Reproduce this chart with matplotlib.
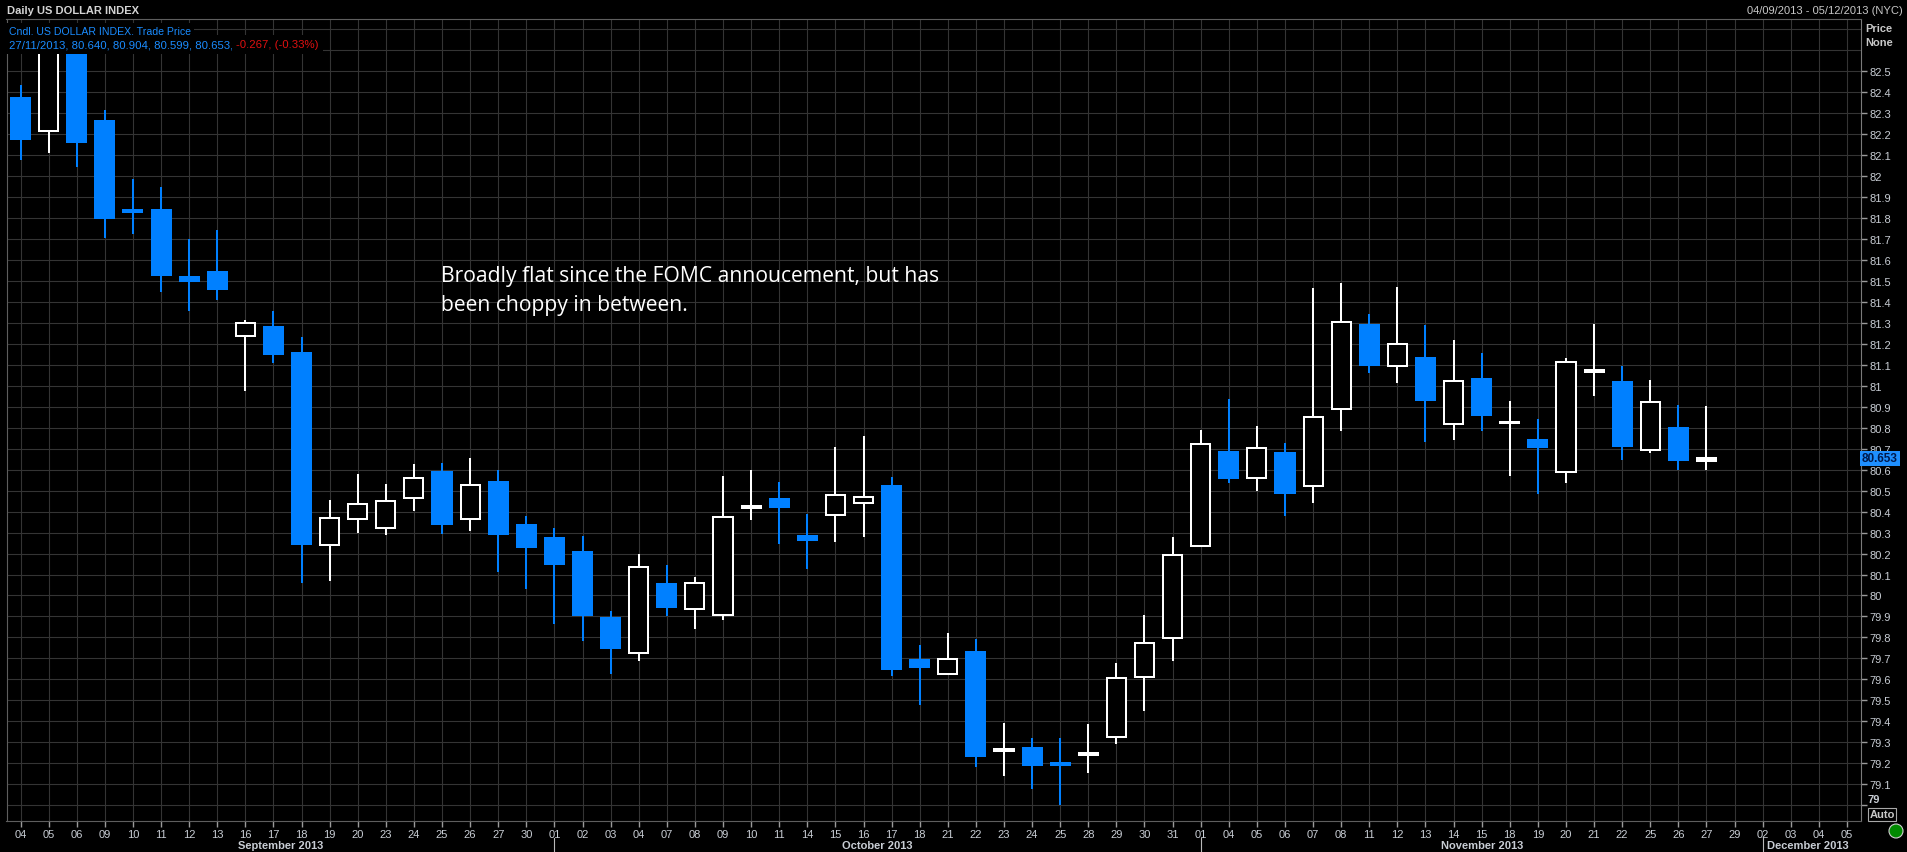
import matplotlib
matplotlib.use("Agg")
import matplotlib.pyplot as plt
import numpy as np
from matplotlib.patches import Ellipse
from matplotlib.lines import Line2D
from matplotlib.transforms import blended_transform_factory

# ---------------- data ----------------
day_labels = ["04", "05", "06", "09", "10", "11", "12", "13", "16", "17", "18", "19", "20",
              "23", "24", "25", "26", "27", "30",
              "01", "02", "03", "04", "07", "08", "09", "10", "11", "14", "15", "16", "17",
              "18", "21", "22", "23", "24", "25", "28", "29", "30", "31",
              "01", "04", "05", "06", "07", "08", "11", "12", "13", "14", "15", "18", "19",
              "20", "21", "22", "25", "26", "27", "29",
              "02", "03", "04", "05"]

month_names = ["September 2013", "October 2013", "November 2013", "December 2013"]
month_starts = [0, 19, 42, 62]

opens = [82.377, 82.212, 82.630, 82.268, 81.840, 81.844, 81.525, 81.546, 81.237, 81.285,
         81.161, 80.242, 80.364, 80.322, 80.466, 80.593, 80.364, 80.547, 80.342, 80.278,
         80.213, 79.898, 79.725, 80.059, 79.937, 79.908, 80.415, 80.466, 80.288, 80.383,
         80.442, 80.527, 79.698, 79.625, 79.735, 79.260, 79.279, 79.207, 79.238, 79.325,
         79.613, 79.798, 80.235, 80.690, 80.561, 80.686, 80.522, 80.890, 81.293, 81.095,
         81.137, 80.817, 81.037, 80.820, 80.747, 80.588, 81.066, 81.022, 80.693, 80.803,
         80.640]
highs = [82.434, 82.660, 82.680, 82.314, 81.985, 81.948, 81.700, 81.741, 81.315, 81.356,
         81.232, 80.456, 80.578, 80.532, 80.627, 80.632, 80.656, 80.598, 80.378, 80.322,
         80.283, 79.927, 80.198, 80.147, 80.088, 80.571, 80.598, 80.542, 80.388, 80.708,
         80.761, 80.566, 79.764, 79.823, 79.793, 79.394, 79.320, 79.320, 79.389, 79.679,
         79.908, 80.278, 80.788, 80.937, 80.810, 80.727, 81.466, 81.490, 81.341, 81.471,
         81.290, 81.217, 81.156, 80.927, 80.842, 81.132, 81.295, 81.095, 81.027, 80.907,
         80.904]
lows = [82.078, 82.107, 82.041, 81.705, 81.722, 81.449, 81.358, 81.407, 80.973, 81.110,
        80.061, 80.071, 80.300, 80.286, 80.405, 80.291, 80.305, 80.110, 80.030, 79.866,
        79.781, 79.628, 79.686, 79.900, 79.840, 79.881, 80.359, 80.244, 80.127, 80.257,
        80.281, 79.615, 79.476, 79.620, 79.181, 79.138, 79.079, 78.999, 79.152, 79.291,
        79.447, 79.686, 80.230, 80.534, 80.500, 80.381, 80.439, 80.783, 81.059, 81.015,
        80.734, 80.739, 80.783, 80.569, 80.486, 80.534, 80.949, 80.644, 80.678, 80.600,
        80.599]
closes = [82.170, 82.630, 82.156, 81.797, 81.822, 81.522, 81.493, 81.454, 81.298, 81.144,
          80.239, 80.371, 80.434, 80.449, 80.561, 80.335, 80.525, 80.286, 80.225, 80.144,
          79.903, 79.747, 80.135, 79.942, 80.061, 80.376, 80.425, 80.415, 80.261, 80.481,
          80.471, 79.645, 79.652, 79.696, 79.228, 79.268, 79.186, 79.188, 79.248, 79.608,
          79.774, 80.193, 80.722, 80.554, 80.703, 80.486, 80.849, 81.305, 81.093, 81.198,
          80.929, 81.024, 80.854, 80.828, 80.705, 81.115, 81.076, 80.710, 80.920, 80.639,
          80.653]

last_price = 80.653
price_ticks = [79.0, 79.1, 79.2, 79.3, 79.4, 79.5, 79.6, 79.7, 79.8, 79.9,
               80.0, 80.1, 80.2, 80.3, 80.4, 80.5, 80.6, 80.7, 80.8, 80.9,
               81.0, 81.1, 81.2, 81.3, 81.4, 81.5, 81.6, 81.7, 81.8, 81.9,
               82.0, 82.1, 82.2, 82.3, 82.4, 82.5]
extra_grid = [82.6, 82.7]

# ---------------- style ----------------
W, H = 1907, 853
BLUE = "#0080ff"
GRID = "#343434"
SPINE = "#5e5e5e"
TXT = "#c8cdd4"
SMALL = ["Liberation Sans", "DejaVu Sans"]

def fx(px):
    return px / W

def fy(py):
    return 1 - py / H

fig = plt.figure(figsize=(W / 100, H / 100), dpi=100, facecolor="black")
ax_l, ax_r, ax_t, ax_b = 6.5, 1861, 20, 822
ax = fig.add_axes([fx(ax_l), fy(ax_b), (ax_r - ax_l) / W, (ax_b - ax_t) / H])
ax.set_facecolor("black")

n_slots = len(day_labels)
ax.set_xlim(-0.5, n_slots - 0.5)
ax.set_ylim(78.925, 82.748)

o = np.array(opens); h = np.array(highs); l = np.array(lows); c = np.array(closes)
x = np.arange(len(o))
up = c >= o
tiny = np.abs(c - o) < 0.02

# wicks
wick_cols = np.where(up, "white", BLUE)
ax.vlines(x, l, h, colors=wick_cols, linewidth=1.45, zorder=2)
# bodies
ax.bar(x[~up], (o - c)[~up], bottom=c[~up], width=0.75, color=BLUE, linewidth=0, zorder=3)
hollow = up & ~tiny
solid = up & tiny
ax.bar(x[hollow], (c - o)[hollow], bottom=o[hollow], width=0.68, facecolor="black",
       edgecolor="white", linewidth=1.45, zorder=3)
ax.bar(x[solid], (c - o)[solid], bottom=o[solid], width=0.68, facecolor="white",
       edgecolor="white", linewidth=1.45, zorder=3)

# grid / ticks
ax.set_xticks(x.tolist() + list(range(len(o), n_slots)))
ax.set_xticklabels(day_labels, fontsize=8, color=TXT, family=SMALL)
ax.set_yticks(price_ticks)
ylabels = []
for v in price_ticks:
    if abs(v - round(v)) < 1e-9:
        ylabels.append("" if v == price_ticks[0] else str(int(round(v))))
    else:
        ylabels.append(f"{v:.1f}")
ax.set_yticklabels(ylabels, fontsize=8, color=TXT, family=SMALL)
for t, v in zip(ax.get_yticklabels(), price_ticks):
    if abs(v - round(v)) < 1e-9:
        t.set_fontweight("bold")
ax.set_yticks(extra_grid, minor=True)
ax.yaxis.tick_right()
ax.tick_params(axis="y", which="major", direction="out", length=4, width=1, color="#9a9a9a", pad=2)
ax.tick_params(axis="y", which="minor", length=0)
ax.tick_params(axis="x", direction="out", length=4, width=1, color="#9a9a9a", pad=1.5)
ax.grid(True, which="both", color=GRID, linewidth=0.8, zorder=0)
ax.set_axisbelow(True)
for s in ax.spines.values():
    s.set_color(SPINE)
    s.set_linewidth(0.8)
ax.spines["right"].set_color("#7a7a7a")

# lowest price label sits slightly above its tick (room for the Auto box)
fig.text(fx(1867.5), fy(800), str(int(price_ticks[0])), fontsize=8, fontweight="bold",
         color=TXT, family=SMALL, ha="left", va="center")

# month labels and separators
tb = blended_transform_factory(ax.transData, fig.transFigure)
bounds = month_starts[1:] + [None]
for name, st, en in zip(month_names, month_starts, bounds):
    if en is None:
        ax.text(st + 0.15, fy(846), name, transform=tb, ha="left", va="center",
                fontsize=8, fontweight="bold", color=TXT, family=SMALL, clip_on=False)
    else:
        left = -0.5 if st == 0 else st
        ax.text((left + en) / 2, fy(846), name, transform=tb, ha="center", va="center",
                fontsize=8, fontweight="bold", color=TXT, family=SMALL, clip_on=False)
    if st > 0:
        fig.add_artist(Line2D([st, st], [fy(839), fy(853)], transform=tb,
                              color="#b8b8b8", linewidth=0.8))

# header texts
fig.text(fx(7), fy(11), "Daily US DOLLAR INDEX", fontsize=8, fontweight="bold",
         color="#d4d4d4", family=SMALL, ha="left", va="center")
fig.text(fx(1903), fy(11), "04/09/2013 - 05/12/2013 (NYC)", fontsize=8,
         color="#c8c8c8", family=SMALL, ha="right", va="center")
fig.text(fx(1865), fy(29), "Price", fontsize=8, fontweight="bold", color="#c8c8c8",
         family=SMALL, ha="left", va="center")
fig.text(fx(1865), fy(43), "None", fontsize=8, fontweight="bold", color="#c8c8c8",
         family=SMALL, ha="left", va="center")

# legend lines inside plot (black backgrounds hide the candles below)
ax.text(fx(9), fy(32), "Cndl, US DOLLAR INDEX, Trade Price", transform=fig.transFigure,
        fontsize=7.6, color="#1a8cff", family=SMALL, ha="left", va="center", zorder=10,
        clip_on=False, bbox=dict(facecolor="black", edgecolor="none", pad=2.5))
t2 = ax.text(fx(9), fy(45.5), "27/11/2013, 80.640, 80.904, 80.599, 80.653, ",
             transform=fig.transFigure, fontsize=8.2, color="#1a8cff", family=SMALL,
             ha="left", va="center", zorder=10, clip_on=False,
             bbox=dict(facecolor="black", edgecolor="none", pad=3))
ax.annotate("-0.267, (-0.33%)", xy=(1, 0.5), xycoords=t2, xytext=(0, 0),
            textcoords="offset points", ha="left", va="center", fontsize=8.2,
            color="#e01010", family=SMALL, zorder=11, annotation_clip=False,
            bbox=dict(facecolor="black", edgecolor="none", pad=3))

# commentary
note_font = ["Open Sans", "DejaVu Sans"]
fig.text(fx(441), fy(282), "Broadly flat since the FOMC annoucement, but has",
         fontsize=15.2, color="white", family=note_font, ha="left", va="baseline")
fig.text(fx(441), fy(311.5), "been choppy in between.",
         fontsize=15.2, color="white", family=note_font, ha="left", va="baseline")

# last price marker on axis
ty = blended_transform_factory(fig.transFigure, ax.transData)
ax.text(fx(1862), last_price, f"{last_price:.3f}", transform=ty, ha="left", va="center",
        fontsize=8.5, fontweight="bold", color="#001a4d", family=SMALL, clip_on=False,
        zorder=10, bbox=dict(facecolor="#1e8fff", edgecolor="none", pad=1.2))

# Auto box and status light
fig.text(fx(1882), fy(815.5), "Auto", fontsize=8, fontweight="bold", color="#c8c8c8",
         family=SMALL, ha="center", va="center",
         bbox=dict(facecolor="black", edgecolor="#a8a8a8", pad=0.8, linewidth=0.8))
fig.add_artist(Ellipse((fx(1896), fy(832)), 14 / W, 14 / H, transform=fig.transFigure,
                       facecolor="#008a00", edgecolor="#d0d0d0", linewidth=0.8))

fig.savefig("out.png", dpi=100, facecolor="black")
